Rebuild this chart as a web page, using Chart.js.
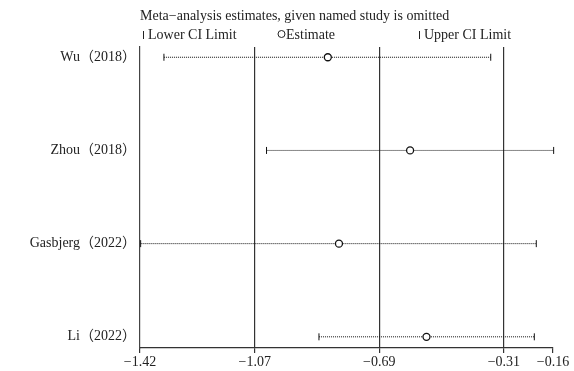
<!DOCTYPE html>
<html><head><meta charset="utf-8">
<script src="https://cdn.jsdelivr.net/npm/chart.js@4"></script>
<style>html,body{margin:0;padding:0;background:#fff}#wrap{width:574px;height:371px;position:relative}</style>
</head><body><div id="wrap"><canvas id="c" width="574" height="371" style="width:574px;height:371px"></canvas></div>
<script>
const studies = ['Wu（2018）', 'Zhou（2018）', 'Gasbjerg（2022）', 'Li（2022）'];
const estimates = [-0.847, -0.596, -0.813, -0.546];
const lowerCI = [-1.347, -1.034, -1.418, -0.874];
const upperCI = [-0.350, -0.158, -0.211, -0.217];
const xTicks = [-1.42, -1.07, -0.69, -0.31, -0.16];
const xTickLabels = ['−1.42', '−1.07', '−0.69', '−0.31', '−0.16'];
const titleText = 'Meta−analysis estimates, given named study is omitted';
const legendLabels = ['Lower CI Limit', 'Estimate', 'Upper CI Limit'];

const FONT = '"Liberation Serif", "Noto Sans CJK SC", serif';

const ciLine = [];
studies.forEach((s, i) => {
  ciLine.push({x: lowerCI[i], y: i}, {x: upperCI[i], y: i}, {x: null, y: null});
});

const headerPlugin = {
  id: 'header',
  afterDraw(chart) {
    const ctx = chart.ctx;
    const L = chart.chartArea.left;
    ctx.save();
    ctx.fillStyle = '#222';
    ctx.textBaseline = 'middle';
    ctx.font = '14px ' + FONT;
    ctx.textAlign = 'left';
    ctx.fillText(titleText, L, 16);
    const ly = 35;
    ctx.strokeStyle = '#222';
    ctx.lineWidth = 1;
    ctx.beginPath(); ctx.moveTo(L + 3.5, ly - 4); ctx.lineTo(L + 3.5, ly + 4); ctx.stroke();
    ctx.fillText(legendLabels[0], L + 8, ly);
    ctx.beginPath(); ctx.arc(L + 141.5, ly - 1, 3.5, 0, Math.PI * 2); ctx.stroke();
    ctx.fillText(legendLabels[1], L + 146, ly);
    ctx.beginPath(); ctx.moveTo(L + 279.5, ly - 4); ctx.lineTo(L + 279.5, ly + 4); ctx.stroke();
    ctx.fillText(legendLabels[2], L + 284, ly);
    ctx.restore();
  }
};

new Chart(document.getElementById('c'), {
  type: 'scatter',
  data: {
    datasets: [
      {
        label: 'Estimate',
        data: studies.map((s, i) => ({x: estimates[i], y: i})),
        pointStyle: 'circle', pointRadius: 3.5, pointBorderWidth: 1.3,
        pointBorderColor: '#111', pointBackgroundColor: '#fff', clip: false
      },
      {
        label: 'Lower',
        data: studies.map((s, i) => ({x: lowerCI[i], y: i})),
        pointStyle: 'line', rotation: 90, pointRadius: 3.5, pointBorderWidth: 1,
        pointBorderColor: '#111', clip: false
      },
      {
        label: 'Upper',
        data: studies.map((s, i) => ({x: upperCI[i], y: i})),
        pointStyle: 'line', rotation: 90, pointRadius: 3.5, pointBorderWidth: 1,
        pointBorderColor: '#111', clip: false
      },
      {
        label: 'CI',
        data: ciLine,
        showLine: true, spanGaps: false, pointRadius: 0,
        borderColor: '#111', borderWidth: 1, borderDash: [1, 1], clip: false
      }
    ]
  },
  options: {
    responsive: false,
    maintainAspectRatio: false,
    animation: false,
    devicePixelRatio: 1,
    layout: {padding: {top: 47, right: 21, left: 0, bottom: 0}},
    plugins: {legend: {display: false}, tooltip: {enabled: false}, title: {display: false}},
    scales: {
      x: {
        type: 'linear',
        min: xTicks[0], max: xTicks[xTicks.length - 1],
        afterBuildTicks: s => { s.ticks = xTicks.map(v => ({value: v})); },
        afterFit: s => { s.height = 23; },
        ticks: {
          autoSkip: false, maxRotation: 0, padding: 1,
          color: '#222', font: {family: FONT, size: 14},
          callback: (v, i) => xTickLabels[i]
        },
        grid: {
          drawTicks: true, tickLength: 5, lineWidth: 1.2,
          color: c => (c.index === 0 || c.index === xTicks.length - 1) ? 'rgba(0,0,0,0)' : '#333',
          tickColor: '#333'
        },
        border: {display: true, color: '#333', width: 1.2}
      },
      y: {
        type: 'linear',
        reverse: true,
        min: -0.11, max: 3.12,
        afterBuildTicks: s => { s.ticks = studies.map((n, i) => ({value: i})); },
        afterFit: s => { s.width = 140; },
        ticks: {
          autoSkip: false, padding: 4,
          color: '#222', font: {family: FONT, size: 14},
          callback: (v) => studies[v]
        },
        grid: {display: false, drawTicks: false},
        border: {display: true, color: '#444', width: 1.2}
      }
    }
  },
  plugins: [headerPlugin]
});
</script>
</body></html>
